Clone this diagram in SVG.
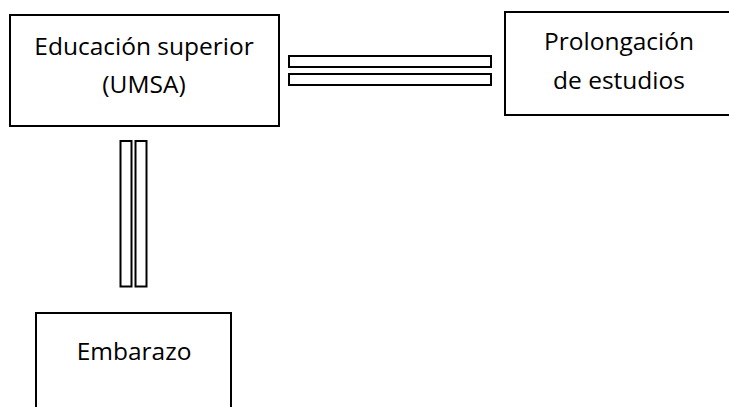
<svg xmlns="http://www.w3.org/2000/svg" width="729" height="407" viewBox="0 0 729 407">
<style>
.box{fill:#fff;stroke:#000;stroke-width:2}
.bar{fill:#fff;stroke:#000;stroke-width:2}
.t{font-family:"Open Sans","Noto Sans",sans-serif;font-size:24.5px;fill:#000;text-anchor:middle}
</style>
<rect width="729" height="407" fill="#fff"/>
<g id="connectors">
<rect class="bar" x="289" y="56" width="202" height="11"/>
<rect class="bar" x="289" y="74" width="202" height="11"/>
<rect class="bar" x="120.5" y="141" width="11" height="145.5"/>
<rect class="bar" x="135.5" y="141" width="11" height="145.5"/>
</g>
<g id="educacion">
<rect class="box" x="10" y="15" width="269" height="111"/>
<text class="t" x="144" y="55">Educación superior</text>
<text class="t" x="144" y="93">(UMSA)</text>
</g>
<g id="prolongacion">
<rect class="box" x="505" y="12" width="230" height="103"/>
<text class="t" x="619" y="50">Prolongación</text>
<text class="t" x="619" y="89">de estudios</text>
</g>
<g id="embarazo">
<rect class="box" x="36" y="313" width="195" height="100"/>
<text class="t" x="134" y="360">Embarazo</text>
</g>
</svg>
